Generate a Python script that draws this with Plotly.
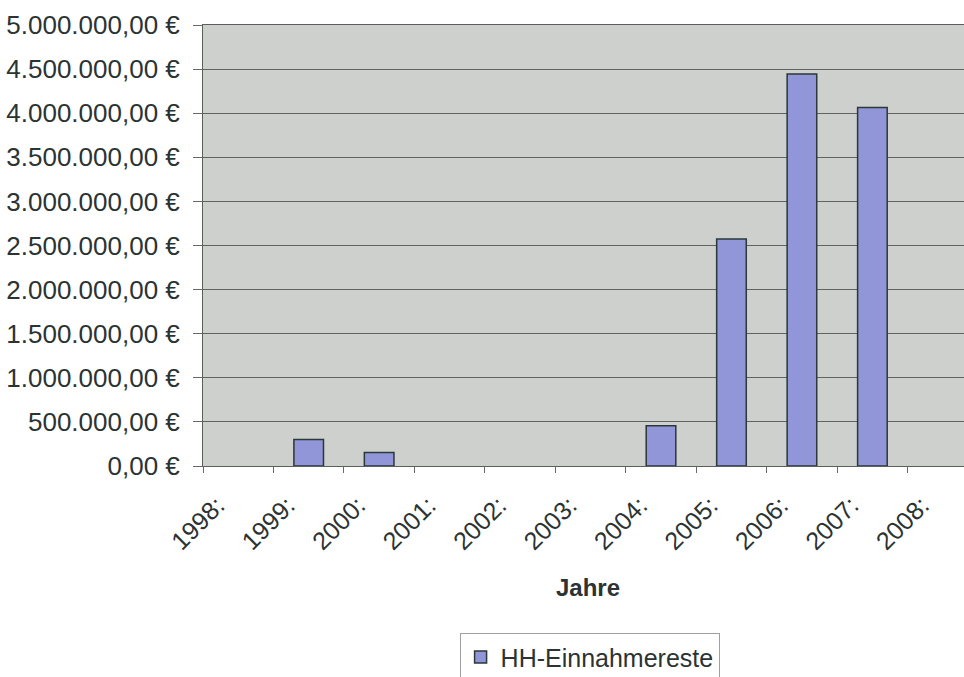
"""HH-Einnahmereste 1998-2008 bar chart."""

import plotly.graph_objects as go

years = ["1998:", "1999:", "2000:", "2001:", "2002:", "2003:",
         "2004:", "2005:", "2006:", "2007:", "2008:"]
# years without a bar in the original are left empty
einnahmereste = [None, 300000, 152000, None, None, None,
                 455000, 2575000, 4445000, 4065000, None]

y_ticks = [0, 500000, 1000000, 1500000, 2000000, 2500000,
           3000000, 3500000, 4000000, 4500000, 5000000]


def euro(v):
    s = f"{v:,.2f}".replace(",", "X").replace(".", ",").replace("X", ".")
    return s + " €"


TEXT = "#2b3333"
FONT = "Liberation Sans, Arial, sans-serif"

fig = go.Figure()
fig.add_trace(go.Bar(
    x=years, y=einnahmereste, name="HH-Einnahmereste",
    width=0.42,
    marker=dict(color="#9096d8", line=dict(color="#2a3838", width=1.5)),
))

fig.update_layout(
    width=964, height=677,
    margin=dict(l=203, r=0, t=25, b=211, autoexpand=False),
    paper_bgcolor="white",
    plot_bgcolor="#cdd0cc",
    font=dict(family=FONT, size=25, color=TEXT),
    showlegend=True,
    legend=dict(
        x=0.508, xanchor="center", y=-0.379, yanchor="top",
        bordercolor="#a0a0a0", borderwidth=1, bgcolor="white",
        font=dict(size=25, color=TEXT),
        itemwidth=30,
    ),
)

fig.update_xaxes(
    type="category",
    range=[-0.5, 10.3],
    tickson="boundaries",
    ticks="outside", ticklen=6, tickcolor="#6a6a6a",
    tickangle=-45,
    ticklabelshift=-21, ticklabelstandoff=14,
    tickfont=dict(size=25, color=TEXT),
    showgrid=False,
    showline=True, linecolor="#5a5f5a", linewidth=1, mirror=True,
    automargin=False,
)

fig.update_yaxes(
    range=[0, 5000000],
    tickvals=y_ticks,
    ticktext=[euro(v) for v in y_ticks],
    ticks="outside", ticklen=9, tickcolor="#6a6a6a",
    ticklabelstandoff=8,
    tickfont=dict(size=26, color=TEXT),
    showgrid=True, gridcolor="#5f645f", gridwidth=1,
    showline=True, linecolor="#5a5f5a", linewidth=1,
    zeroline=False,
    automargin=False,
)

fig.add_annotation(
    text="<b>Jahre</b>", xref="paper", yref="paper",
    x=0.506, y=-0.275, xanchor="center", yanchor="middle",
    showarrow=False, font=dict(size=24, color=TEXT),
)

# drop the default page margin so the figure fills the window exactly
fig.write_html(
    "out.html",
    config={"displayModeBar": False},
    post_script="document.body.style.margin = '0';",
)
